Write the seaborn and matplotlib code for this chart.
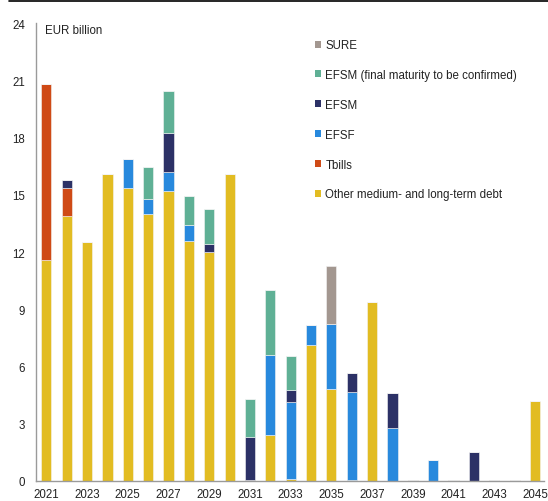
import numpy as np
import pandas as pd
import matplotlib
matplotlib.use("Agg")
import matplotlib.pyplot as plt
from matplotlib.patches import Patch
from matplotlib.lines import Line2D
import seaborn as sns

years = list(range(2021, 2046))
other = [11.6, 13.9, 12.5, 16.1, 15.35, 14.0, 15.2, 12.6, 12.0, 16.1, 0.05, 2.4, 0.1, 7.1, 4.8,
         0.05, 9.4, 0.0, 0.05, 0.0, 0.05, 0.0, 0.05, 0.05, 4.2]
tbills = [9.2, 1.45, 0, 0, 0, 0, 0, 0, 0, 0, 0, 0, 0, 0, 0, 0, 0, 0, 0, 0, 0, 0, 0, 0, 0]
efsf = [0, 0, 0, 0, 1.5, 0.8, 1.0, 0.8, 0, 0, 0, 4.2, 4.05, 1.05, 3.45, 4.6, 0, 2.8, 0, 1.1,
        0, 0, 0, 0, 0]
efsm = [0, 0.45, 0, 0, 0, 0, 2.05, 0, 0.4, 0, 2.25, 0, 0.6, 0, 0, 1.0, 0, 1.8, 0, 0, 0, 1.53,
        0, 0, 0]
efsm_c = [0, 0, 0, 0, 0, 1.65, 2.2, 1.55, 1.85, 0, 2.0, 3.4, 1.8, 0, 0, 0, 0, 0, 0, 0, 0, 0,
          0, 0, 0]
sure = [0, 0, 0, 0, 0, 0, 0, 0, 0, 0, 0, 0, 0, 0, 3.0, 0, 0, 0, 0, 0, 0, 0, 0, 0, 0]

series = [
    ("Other medium- and long-term debt", other, "#E2BC22"),
    ("Tbills", tbills, "#CF4A16"),
    ("EFSF", efsf, "#2889DD"),
    ("EFSM", efsm, "#2C3166"),
    ("EFSM (final maturity to be confirmed)", efsm_c, "#5FB095"),
    ("SURE", sure, "#A39790"),
]

sns.set_style("white")
plt.rcParams['font.family'] = ['Liberation Sans', 'DejaVu Sans']

fig = plt.figure(figsize=(5.48, 5.02), dpi=100)
ax = fig.add_axes([0.066, 0.040, 0.927, 0.912])

labels = [str(y) for y in years]
bottom = np.zeros(len(years))
handles = []
for name, vals, col in series:
    df = pd.DataFrame({"year": labels, "v": vals})
    sns.barplot(data=df, x="year", y="v", order=labels, color=col, bottom=bottom,
                width=0.5, edgecolor="#f4f4f4", linewidth=0.4, ax=ax, errorbar=None,
                saturation=1)
    bottom = bottom + np.array(vals)
    handles.append(Patch(facecolor=col, edgecolor="none", label=name))

ax.set_xlim(-0.5, 24.45)
ax.set_ylim(0, 24)
ax.set_yticks(np.arange(0, 25, 3))
ax.set_xticks(range(0, 25, 2))
ax.set_xticklabels(labels[::2])
ax.tick_params(axis="both", length=0, labelsize=8.3, colors="#222222")
ax.tick_params(axis="x", pad=5)
ax.tick_params(axis="y", pad=8)
ax.set_xlabel("")
ax.set_ylabel("")
for s in ["top", "right"]:
    ax.spines[s].set_visible(False)
for s in ["left", "bottom"]:
    ax.spines[s].set_color("#9a9a9a")
    ax.spines[s].set_linewidth(1.0)

ax.text(0.018, 0.985, "EUR billion", transform=ax.transAxes, fontsize=8.3,
        ha="left", va="center", color="#222222")

leg = ax.legend(handles=handles[::-1], loc="upper left", bbox_to_anchor=(0.540, 0.975),
                frameon=False, fontsize=8.3, handlelength=0.55, handleheight=0.55,
                handletextpad=0.35, labelspacing=1.55, borderaxespad=0)
for t in leg.get_texts():
    t.set_color("#222222")

fig.add_artist(Line2D([0.016, 1.0], [0.996, 0.996], transform=fig.transFigure,
                      color="black", linewidth=1.2))

fig.savefig("out.png", dpi=100)
